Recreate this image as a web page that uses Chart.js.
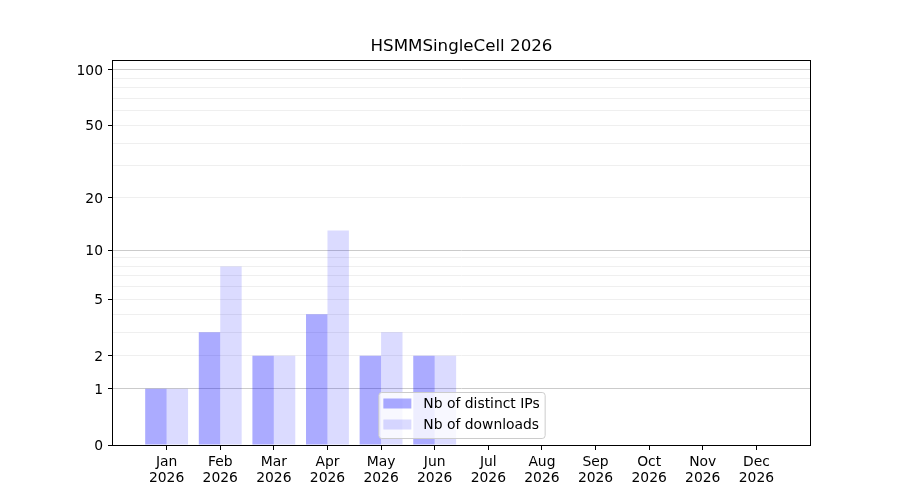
<!DOCTYPE html>
<html>
<head>
<meta charset="utf-8">
<script src="https://cdn.jsdelivr.net/npm/chart.js@4/dist/chart.umd.min.js"></script>
<style>
  html, body { margin: 0; padding: 0; background: #fff; }
  #wrap { width: 900px; height: 500px; }
</style>
</head>
<body>
<div id="wrap"><canvas id="chart" width="900" height="500"></canvas></div>
<script>
// Data
const chartTitle = 'HSMMSingleCell 2026';
const months = ['Jan', 'Feb', 'Mar', 'Apr', 'May', 'Jun', 'Jul', 'Aug', 'Sep', 'Oct', 'Nov', 'Dec'];
const year = '2026';
const distinctIps = [1, 3, 2, 4, 2, 2, 0, 0, 0, 0, 0, 0];
const downloads = [1, 8, 2, 13, 3, 2, 0, 0, 0, 0, 0, 0];
const yLabelled = [0, 1, 2, 5, 10, 20, 50, 100];
const yMinor = [3, 4, 6, 7, 8, 9, 30, 40, 60, 70, 80, 90];
const yDecades = [1, 10, 100];

const FONT = "'DejaVu Sans', sans-serif";
const FS = 13.89;
Chart.defaults.font.family = FONT;
Chart.defaults.font.size = FS;
Chart.defaults.color = '#000';

// symmetric-log style axis: position follows log10(1 + v)
class Log1pScale extends Chart.Scale {
  static id = 'log1p';
  static defaults = {};

  determineDataLimits() {
    const { min, max } = this.getMinMax(false);
    this.min = this.options.min ?? Math.min(0, min);
    this.max = this.options.max ?? max;
  }

  buildTicks() {
    return [...yLabelled, ...yMinor].sort((a, b) => a - b).map(v => ({ value: v }));
  }

  configure() {
    super.configure();
    this._lo = Math.log10(1 + this.min);
    this._span = Math.log10(1 + this.max) - this._lo;
  }

  getPixelForValue(v) {
    return this.getPixelForDecimal((Math.log10(1 + v) - this._lo) / this._span);
  }

  getValueForPixel(p) {
    return Math.pow(10, this._lo + this.getDecimalForPixel(p) * this._span) - 1;
  }

  getLabelForValue(v) {
    return String(v);
  }
}
Chart.register(Log1pScale);

// title centred over the axes, like matplotlib
const axesTitle = {
  id: 'axesTitle',
  afterDraw(chart) {
    const { ctx, chartArea } = chart;
    ctx.save();
    ctx.font = `16.67px ${FONT}`;
    ctx.fillStyle = '#000';
    ctx.textAlign = 'center';
    ctx.textBaseline = 'middle';
    ctx.fillText(chartTitle, (chartArea.left + chartArea.right) / 2, 47);
    ctx.restore();
  },
};

// black frame round the plot area
const frame = {
  id: 'frame',
  afterDatasetsDraw(chart) {
    const { ctx, chartArea: a } = chart;
    ctx.save();
    ctx.strokeStyle = '#000';
    ctx.lineWidth = 1;
    ctx.strokeRect(Math.round(a.left) - 0.5, Math.round(a.top) + 0.5,
      Math.round(a.right - a.left) + 1, Math.round(a.bottom - a.top));
    ctx.restore();
  },
};

// legend drawn inside the axes, bottom centre
const insideLegend = {
  id: 'insideLegend',
  afterDraw(chart) {
    const { ctx, chartArea: a } = chart;
    const sets = chart.data.datasets;
    ctx.save();
    ctx.font = `${FS}px ${FONT}`;
    const textW = Math.max(...sets.map(d => ctx.measureText(d.label).width));
    const w = 5 + 28 + 12 + textW + 5;
    const h = 46;
    const x = (a.left + a.right) / 2 - w / 2;
    const y = a.bottom - 7 - h;

    ctx.beginPath();
    ctx.roundRect(x + 0.5, y + 0.5, w, h, 3);
    ctx.fillStyle = 'rgba(255,255,255,0.8)';
    ctx.fill();
    ctx.strokeStyle = '#cccccc';
    ctx.lineWidth = 1;
    ctx.stroke();

    sets.forEach((d, i) => {
      const cy = y + 11.5 + i * 21;
      ctx.fillStyle = d.backgroundColor;
      ctx.fillRect(x + 5, cy - 5, 28, 10);
      ctx.fillStyle = '#000';
      ctx.textBaseline = 'middle';
      ctx.fillText(d.label, x + 45, cy + 1);
    });
    ctx.restore();
  },
};

const ctx = document.getElementById('chart').getContext('2d');
new Chart(ctx, {
  type: 'bar',
  data: {
    datasets: [
      {
        label: 'Nb of distinct IPs',
        data: distinctIps.map((v, i) => ({ x: i, y: v })),
        backgroundColor: 'rgba(0, 0, 255, 0.33)',
        borderWidth: 0,
      },
      {
        label: 'Nb of downloads',
        data: downloads.map((v, i) => ({ x: i, y: v })),
        backgroundColor: 'rgba(0, 0, 255, 0.14)',
        borderWidth: 0,
      },
    ],
  },
  options: {
    responsive: false,
    animation: false,
    devicePixelRatio: 1,
    layout: { padding: { left: 0, right: 90, top: 60, bottom: 0 } },
    categoryPercentage: 0.8,
    barPercentage: 1.0,
    plugins: {
      legend: { display: false },
      title: { display: false },
      tooltip: { enabled: false },
    },
    scales: {
      x: {
        type: 'linear',
        min: -1,
        max: 12,
        offset: false,
        border: { display: false },
        grid: {
          offset: false,
          drawOnChartArea: false,
          tickLength: 5,
          tickColor: '#000',
        },
        ticks: {
          autoSkip: false,
          maxRotation: 0,
          padding: 4,
          font: { size: FS, lineHeight: 1.15 },
          callback: v => [months[v], year],
        },
        afterBuildTicks: scale => {
          scale.ticks = months.map((m, i) => ({ value: i }));
        },
        afterFit: scale => { scale.height = 55; },
      },
      y: {
        type: 'log1p',
        min: 0,
        max: 113,
        border: { display: false },
        grid: {
          lineWidth: 1,
          tickLength: 5,
          color: c => {
            const v = c.tick && c.tick.value;
            if (v === 0) return 'rgba(0,0,0,0)';
            return yDecades.includes(v) ? '#cbcbcb' : '#efefef';
          },
          tickColor: c => (c.tick && yLabelled.includes(c.tick.value) ? '#000' : 'rgba(0,0,0,0)'),
        },
        ticks: {
          autoSkip: false,
          padding: 5,
          labelOffset: 1.5,
          callback: v => (yLabelled.includes(v) ? String(v) : ''),
        },
        afterFit: scale => { scale.width = 113; },
      },
    },
  },
  plugins: [axesTitle, frame, insideLegend],
});
</script>
</body>
</html>
